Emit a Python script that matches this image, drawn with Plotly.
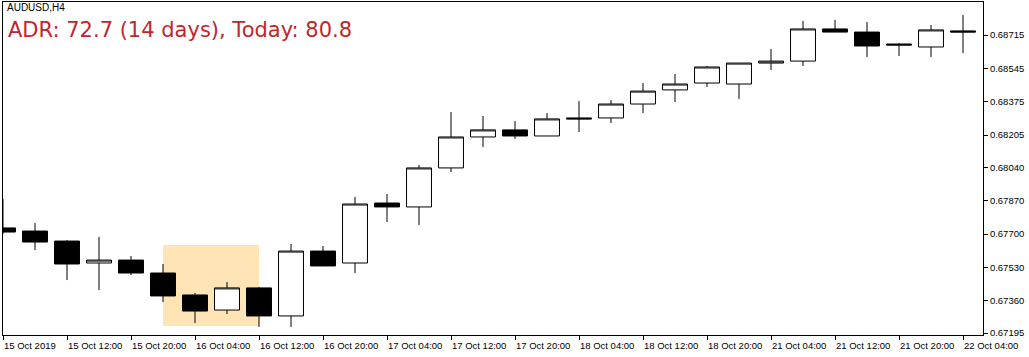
import plotly.graph_objects as go

# ---- data (AUDUSD H4) ----
bar_index = list(range(31))
opens = [0.67731, 0.67715, 0.67664, 0.67552, 0.67567, 0.67501, 0.67389, 0.67312,
         0.67425, 0.67282, 0.67613, 0.67552, 0.67858, 0.67838, 0.68037, 0.68195,
         0.68231, 0.68200, 0.68292, 0.68292, 0.68363, 0.68435, 0.68470, 0.68465,
         0.68572, 0.68582, 0.68746, 0.68730, 0.68669, 0.68654, 0.68736]
highs = [0.67879, 0.67756, 0.67669, 0.67685, 0.67588, 0.67547, 0.67399, 0.67455,
         0.67430, 0.67649, 0.67639, 0.67889, 0.67904, 0.68052, 0.68322, 0.68302,
         0.68276, 0.68317, 0.68378, 0.68384, 0.68470, 0.68516, 0.68557, 0.68572,
         0.68644, 0.68787, 0.68792, 0.68781, 0.68674, 0.68766, 0.68817]
lows = [0.67700, 0.67618, 0.67465, 0.67414, 0.67491, 0.67353, 0.67246, 0.67292,
        0.67226, 0.67226, 0.67537, 0.67501, 0.67761, 0.67746, 0.68016, 0.68144,
        0.68185, 0.68200, 0.68220, 0.68266, 0.68317, 0.68373, 0.68450, 0.68389,
        0.68537, 0.68557, 0.68730, 0.68603, 0.68608, 0.68603, 0.68623]
closes = [0.67710, 0.67659, 0.67547, 0.67567, 0.67501, 0.67384, 0.67307, 0.67425,
          0.67282, 0.67613, 0.67537, 0.67853, 0.67838, 0.68037, 0.68195, 0.68231,
          0.68200, 0.68287, 0.68287, 0.68363, 0.68429, 0.68465, 0.68552, 0.68572,
          0.68582, 0.68746, 0.68730, 0.68659, 0.68664, 0.68741, 0.68730]

x_tick_index = [0, 2, 4, 6, 8, 10, 12, 14, 16, 18, 20, 22, 24, 26, 28, 30]
x_tick_labels = ["15 Oct 2019", "15 Oct 12:00", "15 Oct 20:00", "16 Oct 04:00",
                 "16 Oct 12:00", "16 Oct 20:00", "17 Oct 04:00", "17 Oct 12:00",
                 "17 Oct 20:00", "18 Oct 04:00", "18 Oct 12:00", "18 Oct 20:00",
                 "21 Oct 04:00", "21 Oct 12:00", "21 Oct 20:00", "22 Oct 04:00"]
y_tick_values = [0.67195, 0.67360, 0.67530, 0.67700, 0.67870, 0.68040,
                 0.68205, 0.68375, 0.68545, 0.68715]

# highlighted zone (bars 5..8)
zone_x = [5, 8]
zone_y = [0.67231, 0.67644]

symbol_label = "AUDUSD,H4"
adr_label = "ADR: 72.7 (14 days), Today: 80.8"

fig = go.Figure()
fig.add_trace(go.Candlestick(
    x=bar_index, open=opens, high=highs, low=lows, close=closes,
    increasing=dict(fillcolor="#FFFFFF", line=dict(color="#000000", width=1)),
    decreasing=dict(fillcolor="#000000", line=dict(color="#000000", width=1)),
    whiskerwidth=0, showlegend=False, hoverinfo="skip",
))

fig.add_shape(type="rect", xref="x", yref="y",
              x0=zone_x[0], x1=zone_x[1], y0=zone_y[0], y1=zone_y[1],
              fillcolor="#FFE4B5", line=dict(width=0), layer="below")

axis_font = dict(family="Liberation Sans, Arial, sans-serif", size=9.5, color="#000000")

fig.update_layout(
    width=1029, height=357, autosize=False,
    margin=dict(l=3, r=46, t=2, b=22, pad=0),
    paper_bgcolor="#FFFFFF", plot_bgcolor="#FFFFFF",
    boxgap=0.22, boxgroupgap=0.0,
    showlegend=False,
    xaxis=dict(
        range=[0, 30.625], rangeslider=dict(visible=False),
        tickmode="array", tickvals=x_tick_index, ticktext=x_tick_labels,
        ticks="outside", ticklen=4, tickcolor="#000000", tickwidth=1,
        ticklabelposition="outside right", ticklabelstandoff=2,
        showgrid=False, zeroline=False,
        showline=True, linecolor="#000000", linewidth=1, mirror=True,
        tickfont=axis_font, fixedrange=True,
    ),
    yaxis=dict(
        side="right",
        range=[0.671848, 0.688834],
        tickmode="array", tickvals=y_tick_values,
        ticktext=[f"{v:.5f}" for v in y_tick_values],
        ticks="outside", ticklen=4, tickcolor="#000000", tickwidth=1,
        showgrid=False, zeroline=False,
        showline=True, linecolor="#000000", linewidth=1, mirror=True,
        tickfont=axis_font, fixedrange=True,
    ),
    annotations=[
        dict(xref="paper", yref="paper", x=0.002, y=0.982, xanchor="left", yanchor="middle",
             text=symbol_label, showarrow=False,
             font=dict(family="Liberation Sans, Arial, sans-serif", size=10, color="#000000")),
        dict(xref="paper", yref="paper", x=0.003, y=0.916, xanchor="left", yanchor="middle",
             text=adr_label, showarrow=False,
             font=dict(family="DejaVu Sans, Verdana, sans-serif", size=21, color="#C0272D")),
    ],
)

fig.write_html("out.html")
